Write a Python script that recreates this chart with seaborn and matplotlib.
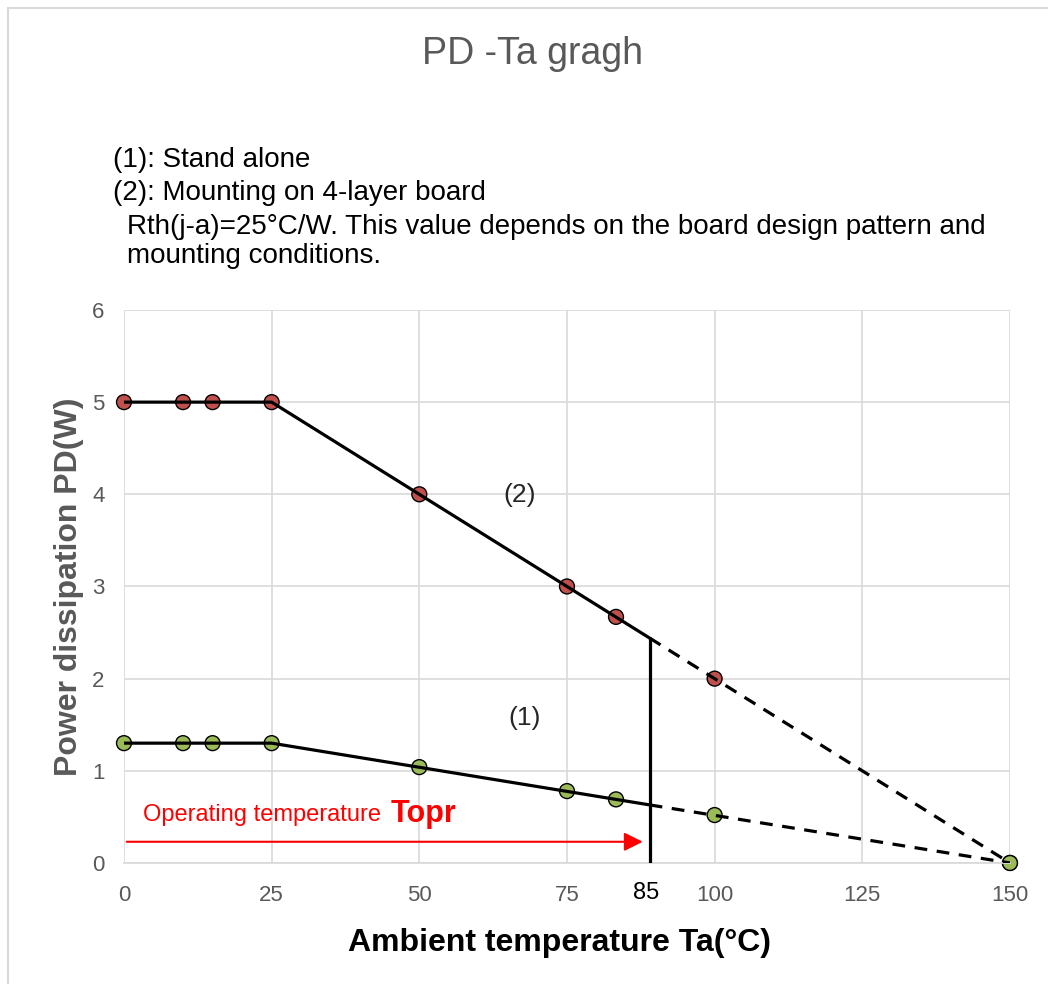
import matplotlib.pyplot as plt
import matplotlib.patches as mpatches
import pandas as pd
import seaborn as sns

sns.set_theme(style="white")
plt.rcParams["font.family"] = ["Liberation Sans", "DejaVu Sans"]

# values
ta = [0, 10, 15, 25, 50, 75, 83.3, 100, 150]
pd_board = [5, 5, 5, 5, 4, 3, 2.67, 2, 0]          # (2) 4-layer board
pd_alone = [1.3, 1.3, 1.3, 1.3, 1.04, 0.78, 0.69, 0.52, 0]  # (1) stand alone

# solid part up to the Topr line, dashed after it
cut_x = 89
solid_x = [0, 25, cut_x]
solid_board = [5, 5, 2.44]
solid_alone = [1.3, 1.3, 0.63]
dash_x = [cut_x, 150]
dash_board = [2.44, 0]
dash_alone = [0.63, 0]

xticks = [0, 25, 50, 75, 100, 125, 150]
yticks = [0, 1, 2, 3, 4, 5, 6]

df = pd.DataFrame({
    "Ta": ta + ta,
    "PD": pd_board + pd_alone,
    "case": ["(2)"] * len(ta) + ["(1)"] * len(ta),
})

fig = plt.figure(figsize=(10.48, 9.84), dpi=100)
ax = fig.add_axes([0.1183, 0.1230, 0.8454, 0.5620])

fig.patches.append(mpatches.Rectangle((0.008, -0.01), 1.1, 1.002, transform=fig.transFigure,
                                      fill=False, edgecolor="#d9d9d9", lw=1.5))

sns.scatterplot(data=df, x="Ta", y="PD", hue="case",
                palette={"(2)": "#c0504d", "(1)": "#9bbb59"},
                s=115, edgecolor="black", linewidth=1, legend=False,
                clip_on=False, zorder=2, ax=ax)

for ys, yd in [(solid_board, dash_board), (solid_alone, dash_alone)]:
    ax.plot(solid_x, ys, color="black", lw=2.3, zorder=3, solid_capstyle="butt")
    ax.plot(dash_x, yd, color="black", lw=2.3, ls=(0, (4, 3)), zorder=3)

ax.plot([cut_x, cut_x], [0, 2.44], color="black", lw=2.3, zorder=3)

ax.annotate("", xy=(88.3, 0.23), xytext=(0, 0.23),
            arrowprops=dict(arrowstyle="-|>", color="red", lw=1.5, mutation_scale=28),
            zorder=4)
ax.text(3.2, 0.52, "Operating temperature", color="red", fontsize=17, va="center")
ax.text(45.2, 0.53, "Topr", color="red", fontsize=22, fontweight="bold", va="center")

ax.text(67, 3.99, "(2)", fontsize=19, ha="center", va="center")
ax.text(67.9, 1.57, "(1)", fontsize=19, ha="center", va="center")
ax.text(88.4, -0.33, "85", fontsize=17, ha="center", va="center", color="black")

ax.set_xlim(0, 150)
ax.set_ylim(0, 6)
ax.set_xticks(xticks)
ax.set_yticks(yticks)
ax.grid(True, color="#d9d9d9", lw=1.2)
ax.set_axisbelow(True)
for s in ["top", "right", "left"]:
    ax.spines[s].set_visible(False)
ax.spines["bottom"].set_color("#d9d9d9")
ax.tick_params(axis="both", length=0, labelsize=16, labelcolor="#595959")
ax.tick_params(axis="x", pad=16)
ax.tick_params(axis="y", pad=14)

ax.set_xlabel("Ambient temperature Ta(°C)", fontsize=23, fontweight="bold",
              color="black")
ax.set_ylabel("Power dissipation PD(W)", fontsize=23, fontweight="bold",
              color="#595959", labelpad=6)
ax.xaxis.set_label_coords(0.492, -0.118)

fig.text(0.508, 0.945, "PD -Ta gragh", fontsize=27, color="#595959",
         ha="center", va="center")

notes = [
    (113, 160, "(1): Stand alone"),
    (113, 193, "(2): Mounting on 4-layer board"),
    (127, 227, "Rth(j-a)=25°C/W. This value depends on the board design pattern and"),
    (127, 256, "mounting conditions."),
]
for px, py, txt in notes:
    fig.text(px / 1048, 1 - py / 984, txt, fontsize=20, color="black",
             ha="left", va="center")

fig.savefig("out.png", dpi=100, facecolor="white")
